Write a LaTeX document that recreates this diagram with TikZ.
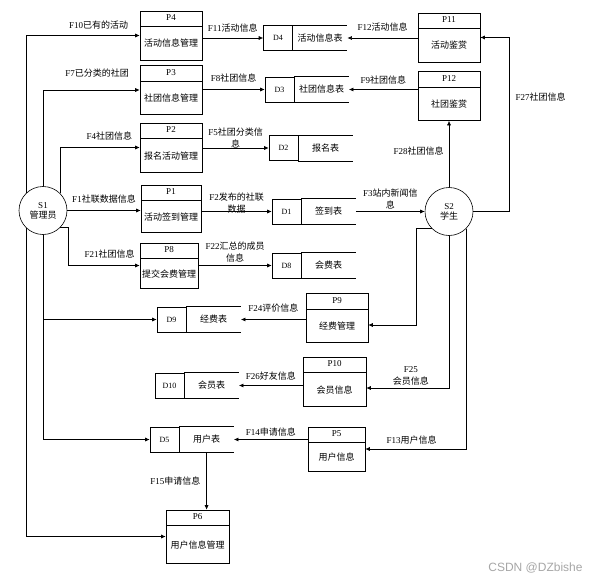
\documentclass[tikz,border=0pt]{standalone}
\usepackage{fontspec}
\setmainfont{Liberation Serif}
\newfontfamily\cjk{Noto Sans CJK SC}
\newfontfamily\wmfont{Liberation Sans}
\newcommand{\zh}[1]{{\cjk #1}}
\newcommand{\pbody}[1]{\raisebox{-11.5pt}[0pt][0pt]{\zh{#1}}}
\usetikzlibrary{positioning, arrows.meta, calc}

\begin{document}
\begin{tikzpicture}[
        x=1pt, y=-1pt,
        line width=0.6pt,
        font=\fontsize{9}{11}\selectfont,
        flow/.style={-{Latex[length=4.5pt, width=4pt]}},
        proc/.style={draw, minimum width=62pt, minimum height=49pt, inner sep=0pt,
            path picture={\draw ([yshift=-15.5pt]path picture bounding box.north west) -- ([yshift=-15.5pt]path picture bounding box.north east);}},
        pid/.style={inner sep=0pt, yshift=-10.5pt},
        ent/.style={circle, draw, fill=white, minimum size=48pt, inner sep=0pt, align=center, font=\fontsize{9}{10}\selectfont},
        sid/.style={draw, minimum width=29pt, minimum height=25pt, inner sep=0pt, font=\fontsize{8}{10}\selectfont},
        sname/.style={minimum width=54pt, minimum height=25pt, inner sep=0pt},
        lab/.style={inner sep=1pt},
        lab2/.style={inner sep=1pt, align=center, font=\fontsize{9}{12}\selectfont}
    ]
        \useasboundingbox (0,0) rectangle (591,583);

        % external entities
        \node[ent] (S1) at (43,210.5) {S1\\\zh{管理员}};
        \node[ent] (S2) at (449,211.5) {S2\\\zh{学生}};

        % processes
        \node[proc, label={[pid]north:P4}] (P4) at (171,35.5) {\pbody{活动信息管理}};
        \node[proc, label={[pid]north:P3}] (P3) at (171,90) {\pbody{社团信息管理}};
        \node[proc, label={[pid]north:P2}] (P2) at (171,147.5) {\pbody{报名活动管理}};
        \node[proc, minimum width=60pt, minimum height=47pt, label={[pid]north:P1}] (P1) at (171,208.5) {\pbody{活动签到管理}};
        \node[proc, minimum width=58pt, minimum height=45pt, label={[pid]north:P8}] (P8) at (169,265.5) {\pbody{提交会费管理}};
        \node[proc, label={[pid]north:P11}] (P11) at (449,37.5) {\pbody{活动鉴赏}};
        \node[proc, label={[pid]north:P12}] (P12) at (449,96) {\pbody{社团鉴赏}};
        \node[proc, label={[pid]north:P9}] (P9) at (337,318) {\pbody{经费管理}};
        \node[proc, minimum width=63pt, label={[pid]north:P10}] (P10) at (334.5,381.5) {\pbody{会员信息}};
        \node[proc, minimum width=57pt, minimum height=44pt, label={[pid]north:P5}] (P5) at (336.5,449) {\pbody{用户信息}};
        \node[proc, minimum width=63pt, minimum height=53pt, label={[pid]north:P6}] (P6) at (197.5,536.5) {\pbody{用户信息管理}};

        % data stores
        \node[sid] (D4) at (278,38) {D4};
        \node[sname, right=0pt of D4] (D4n) {\zh{活动信息表}};
        \node[sid] (D3) at (279.5,89.5) {D3};
        \node[sname, right=0pt of D3] (D3n) {\zh{社团信息表}};
        \node[sid] (D2) at (283.5,148) {D2};
        \node[sname, right=0pt of D2] (D2n) {\zh{报名表}};
        \node[sid] (D1) at (286.5,211.5) {D1};
        \node[sname, right=0pt of D1] (D1n) {\zh{签到表}};
        \node[sid] (D8) at (286.5,265.5) {D8};
        \node[sname, right=0pt of D8] (D8n) {\zh{会费表}};
        \node[sid] (D9) at (171.5,319.5) {D9};
        \node[sname, right=0pt of D9] (D9n) {\zh{经费表}};
        \node[sid] (D10) at (169.5,385.5) {D10};
        \node[sname, right=0pt of D10] (D10n) {\zh{会员表}};
        \node[sid] (D5) at (164.5,439.5) {D5};
        \node[sname, right=0pt of D5] (D5n) {\zh{用户表}};
        \foreach \s in {D1,D2,D3,D4,D5,D8,D9,D10}
            \draw (\s.north east) -- (\s n.north east) (\s.south east) -- (\s n.south east);

        % flows from the administrator
        \draw[flow] (S1.135) |- node[lab, pos=0.82, above=5pt] {F10\zh{已有的活动}} (P4.west);
        \draw[flow] (S1.north) |- node[lab, pos=0.78, above=11pt] {F7\zh{已分类的社团}} (P3.west);
        \draw[flow] (S1.45) |- node[lab, pos=0.81, above=5.5pt] {F4\zh{社团信息}} (P2.west);
        \draw[flow] (S1.east) -- node[lab, above=6pt] {F1\zh{社联数据信息}} (P1.west |- S1.east);
        \draw[flow] (S1.-45) -- ++(8,0) |- node[lab, pos=0.79, above=6pt] {F21\zh{社团信息}} (P8.west);
        \draw[flow] (S1.south) |- (D9.west);
        \draw[flow] (S1.south) |- (D5.west);
        \draw[flow] (S1.-135) |- (P6.west);

        % processes to stores
        \draw[flow] (P4.east |- D4.west) -- node[lab, above=4.5pt] {F11\zh{活动信息}} (D4.west);
        \draw[flow] (P3.east |- D3.west) -- node[lab, above=6pt] {F8\zh{社团信息}} (D3.west);
        \draw[flow] (P2.east |- D2.west) -- node[lab2, above=-1.5pt] {F5\zh{社团分类信}\\\zh{息}} (D2.west);
        \draw[flow] (P1.east |- D1.west) -- node[lab2, above=-3pt] {F2\zh{发布的社联}\\\zh{数据}} (D1.west);
        \draw[flow] (P8.east |- D8.west) -- node[lab2, above=1.5pt] {F22\zh{汇总的成员}\\\zh{信息}} (D8.west);
        \draw[flow] (P11.west |- D4n.east) -- node[lab, above=5.5pt] {F12\zh{活动信息}} (D4n.east);
        \draw[flow] (P12.west |- D3n.east) -- node[lab, above=4pt] {F9\zh{社团信息}} (D3n.east);
        \draw[flow] (P9.west |- D9n.east) -- node[lab, above=6pt] {F24\zh{评价信息}} (D9n.east);
        \draw[flow] (P10.west |- D10n.east) -- node[lab, above=4pt] {F26\zh{好友信息}} (D10n.east);
        \draw[flow] (P5.west |- D5n.east) -- node[lab, above=1.5pt] {F14\zh{申请信息}} (D5n.east);
        \draw[flow] (D5n.south) -- node[lab, left=5pt] {F15\zh{申请信息}} (D5n.south |- P6.north);

        % flows of the student
        \draw[flow] (D1n.east) -- node[lab2, above=1.5pt] {F3\zh{站内新闻信}\\\zh{息}} (S2.west);
        \draw[flow] (S2.north) -- node[lab, pos=0.55, left=4pt] {F28\zh{社团信息}} (P12.south);
        \draw[flow] (S2.east) -- ++(36,0) |- node[lab, pos=0.33, right=5pt] {F27\zh{社团信息}} (P11.east);
        \draw[flow] (S2.-135) -- ++(-16,0) |- ([yshift=-7pt]P9.east);
        \draw[flow] (S2.south) |- node[lab2, pos=0.73, above=1pt] {F25\\\zh{会员信息}} ([yshift=-6.5pt]P10.east);
        \draw[flow] (S2.-45) |- node[lab, pos=0.77, above=3pt] {F13\zh{用户信息}} (P5.east);

        \node[font=\wmfont\fontsize{12}{14}\selectfont, text=gray!70] (mark) at (535.5,568) {CSDN @DZbishe};
    \end{tikzpicture}
\end{document}
